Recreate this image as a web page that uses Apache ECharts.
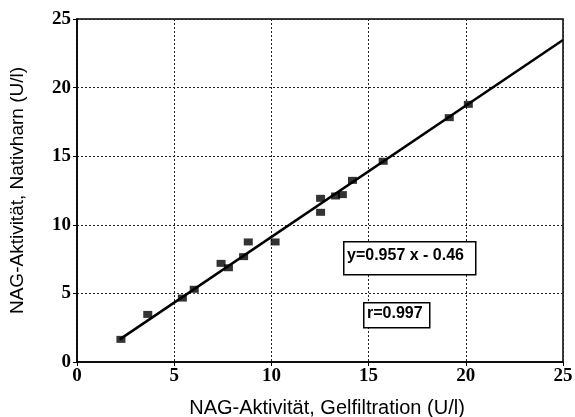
<!DOCTYPE html>
<html><head><meta charset="utf-8">
<script src="https://cdn.jsdelivr.net/npm/echarts@6/dist/echarts.min.js"></script>
<style>html,body{margin:0;padding:0;background:#fff}#c{width:575px;height:417px}</style>
</head><body><div id="c"></div>
<script>
var gelX = [2.26, 3.64, 5.42, 6.03, 7.41, 7.79, 8.57, 8.81, 10.19, 12.53, 12.53, 13.3, 13.65, 14.17, 15.75, 19.15, 20.13];
var natY = [1.65, 3.47, 4.66, 5.30, 7.19, 6.87, 7.68, 8.75, 8.75, 11.93, 10.91, 12.1, 12.2, 13.24, 14.63, 17.81, 18.78];
var fitX = [2.2, 25];
var fitY = [1.65, 23.47];
var ticks = [0, 5, 10, 15, 20, 25];
var eqText = 'y=0.957 x - 0.46';
var rText = 'r=0.997';

var pts = gelX.map(function (x, i) { return [x, natY[i]]; });
var fit = fitX.map(function (x, i) { return [x, fitY[i]]; });

var chart = echarts.init(document.getElementById('c'));
var tickLbl = { color: '#000', fontFamily: 'Liberation Serif', fontWeight: 'bold', fontSize: 19 };
chart.setOption({
  animation: false,
  grid: { left: 77, right: 12, top: 19, bottom: 55, show: true, borderColor: '#000', borderWidth: 1.5, containLabel: false, outerBoundsMode: 'none' },
  xAxis: {
    type: 'value', min: 0, max: 25, interval: 5,
    name: 'NAG-Aktivität, Gelfiltration (U/l)', nameLocation: 'middle', nameGap: 36,
    nameTextStyle: { color: '#000', fontFamily: 'Liberation Sans', fontSize: 20, padding: [0, 0, 0, 14] },
    axisLine: { lineStyle: { color: '#000', width: 1.5 } },
    axisTick: { show: true, length: 4, lineStyle: { color: '#000' } },
    axisLabel: Object.assign({ margin: 5 }, tickLbl),
    splitLine: { show: true, lineStyle: { color: '#222', type: [2, 2], width: 1 } }
  },
  yAxis: {
    type: 'value', min: 0, max: 25, interval: 5,
    name: 'NAG-Aktivität, Nativharn (U/l)', nameLocation: 'middle', nameGap: 50,
    nameTextStyle: { color: '#000', fontFamily: 'Liberation Sans', fontSize: 19 },
    axisLine: { lineStyle: { color: '#000', width: 1.5 } },
    axisTick: { show: true, length: 4, lineStyle: { color: '#000' } },
    axisLabel: Object.assign({ margin: 6 }, tickLbl),
    splitLine: { show: true, lineStyle: { color: '#222', type: [2, 2], width: 1 } }
  },
  series: [
    { type: 'line', data: fit, symbol: 'none', lineStyle: { color: '#000', width: 2.5 }, z: 3 },
    { type: 'scatter', data: pts, symbol: 'rect', symbolSize: [9, 7], itemStyle: { color: '#000' }, z: 4 }
  ],
  graphic: [
    { type: 'rect', left: 343, top: 241, shape: { width: 132, height: 33 }, style: { fill: '#fff', stroke: '#000', lineWidth: 1.5 }, z: 10 },
    { type: 'text', left: 347, top: 248, style: { text: eqText, font: 'bold 16px "Liberation Sans"', fill: '#000' }, z: 11 },
    { type: 'rect', left: 363, top: 302, shape: { width: 66, height: 25 }, style: { fill: '#fff', stroke: '#000', lineWidth: 1.5 }, z: 10 },
    { type: 'text', left: 367, top: 306, style: { text: rText, font: 'bold 16px "Liberation Sans"', fill: '#000' }, z: 11 }
  ]
});
</script></body></html>
